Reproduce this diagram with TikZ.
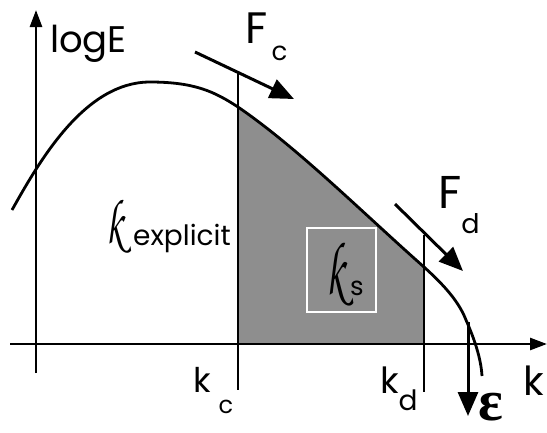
\documentclass[tikz,border=0pt]{standalone}
\usepackage{amsmath,amssymb}
\usepackage{fontspec}
\usepackage{tikz}
\usetikzlibrary{arrows.meta,positioning,calc}
\newfontfamily\lblfont{Poppins}
\newfontfamily\epsfont{Liberation Serif}
\definecolor{bandgray}{RGB}{142,142,142}
\newcommand{\fs}[1]{\fontsize{#1}{#1}\selectfont}
\newcommand{\scrk}[2]{\scalebox{#2}[1]{\fontencoding{OT1}\fontfamily{pzc}\fontseries{mb}\fontshape{it}\fs{#1}k}}

\begin{document}
\begin{tikzpicture}[x=1pt,y=-1pt,
 lbl/.style={inner sep=0pt,anchor=base west,font=\lblfont},
 axis/.style={line width=2.6pt,-{Triangle[length=17pt,width=12pt]}},
 cut/.style={line width=2.6pt},
 arr/.style={line width=3pt,-{Triangle[length=24pt,width=20pt]}},
 curve/.style={line width=2.8pt}]
 \useasboundingbox (0,0) rectangle (547,432);
 % shaded band between k_c and k_d
 \fill[bandgray] (238,107) .. controls (298,148) and (364,214) .. (424,267) -- (424,344) -- (238,344) -- cycle;
 \draw[cut] (238,73) -- (238,390);
 \draw[line width=1.8pt] (424,235) -- (424,392);
 \draw[white,line width=1.3pt] (307,228) rectangle (376,312);
 % spectrum
 \draw[curve] (12,210) .. controls (40,160) and (85,82) .. (150,82)
  .. controls (195,82) and (215,92) .. (238,107)
  .. controls (298,148) and (364,214) .. (424,267)
  .. controls (445,286) and (459,302) .. (466,320)
  .. controls (474,338) and (481,358) .. (482,376);
 % axes
 \coordinate (O) at (36,344);
 \draw[axis] (36,373) -- (36,10);
 \draw[axis] (10,344) -- (547,344);
 % fluxes
 \coordinate (fc1) at (195,52); \coordinate (fc2) at (294,99);
 \coordinate (fd1) at (395,204); \coordinate (fd2) at (463,271);
 \coordinate (eps1) at (468,322); \coordinate (eps2) at (468,416);
 \draw[arr] (fc1) -- (fc2);
 \draw[arr] (fd1) -- (fd2);
 \draw[arr] (eps1) -- (eps2);
 % labels
 \node[lbl] (logE) at (50,52) {\fs{37}logE};
 \node[lbl] (Fc) at (245,43) {\fs{44}F\raisebox{-17pt}{\fs{26}\,c}};
 \node[lbl] (Fd) at (438,208) {\fs{46}F\raisebox{-25pt}{\fs{27}d}};
 \node[lbl] (kc) at (193,392) {\fs{34}k\raisebox{-21pt}{\fs{24}\kern8pt c}};
 \node[lbl] (kd) at (380,393) {\fs{36}k\raisebox{-17pt}{\fs{28}d}};
 \node[lbl] (kaxis) at (523,395) {\fs{40}k};
 \node[lbl] (kexp) at (106,243) {\scrk{64}{0.6}};
 \node[lbl] (kexpsub) at (133,245) {\fs{28}explicit};
 \node[lbl] (ks) at (326,294) {\scrk{76}{0.55}};
 \node[lbl] (kssub) at (350,295) {\fs{26}s};
 \node[lbl,text depth=0pt] (eps) at (478,420) {\epsfont\bfseries\fs{58}ε};
\end{tikzpicture}
\end{document}
